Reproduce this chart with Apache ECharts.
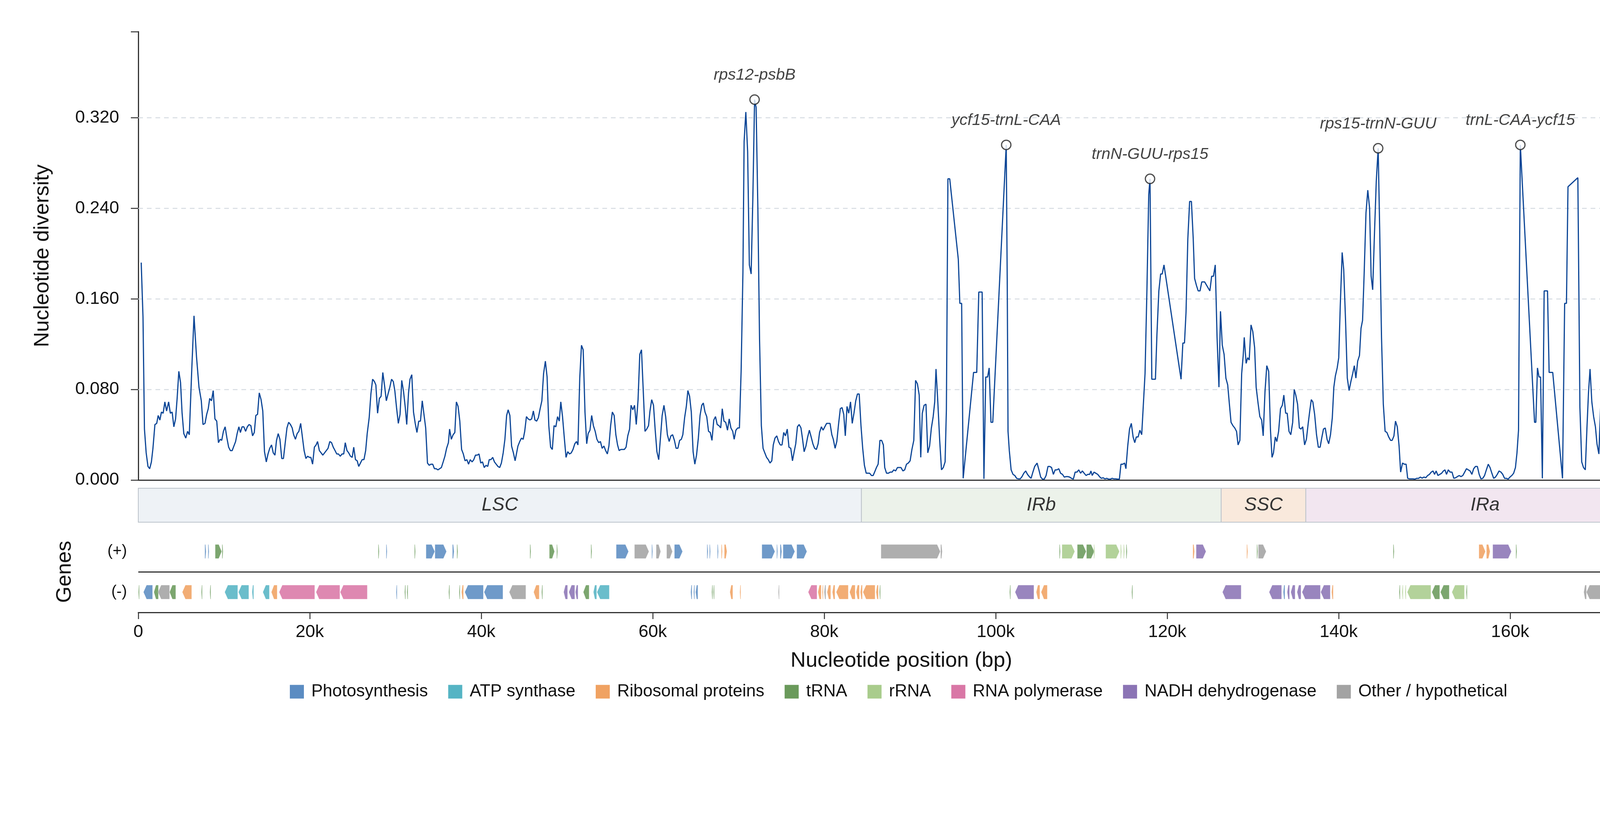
<!DOCTYPE html>
<html lang="en">
<head>
<meta charset="UTF-8">
<title>Nucleotide diversity</title>
<script src="https://cdn.jsdelivr.net/npm/echarts@6/dist/echarts.min.js"></script>
<style>
  html, body { margin: 0; padding: 0; background: #fff; }
  #chart { width: 4322px; height: 2102px; }
</style>
</head>
<body>
<div id="chart"></div>
<script>
// axis setup
const genomeLen = 178000;
const yMax = 0.396;
const yGrid = [0.08, 0.16, 0.24, 0.32];

// sliding-window Pi, [position in kb, Pi], one list per region
const lscPi = [[0.34,0.192],[0.55,0.144],[0.72,0.045],[0.92,0.024],[1.13,0.012],[1.33,0.010],[1.53,0.016],[1.71,0.028],[1.94,0.049],[2.15,0.050],[2.32,0.057],[2.52,0.053],[2.70,0.060],[2.90,0.059],[3.10,0.069],[3.30,0.061],[3.54,0.069],[3.74,0.059],[3.95,0.060],[4.15,0.047],[4.35,0.054],[4.53,0.072],[4.73,0.096],[4.93,0.086],[5.11,0.059],[5.31,0.041],[5.54,0.037],[5.75,0.043],[5.95,0.040],[6.24,0.098],[6.50,0.145],[6.79,0.109],[7.08,0.082],[7.35,0.070],[7.55,0.049],[7.78,0.050],[7.98,0.058],[8.16,0.063],[8.33,0.072],[8.54,0.070],[8.74,0.079],[8.94,0.054],[9.15,0.052],[9.35,0.033],[9.55,0.036],[9.73,0.035],[9.93,0.043],[10.13,0.047],[10.34,0.037],[10.54,0.029],[10.74,0.026],[10.95,0.026],[11.15,0.030],[11.35,0.034],[11.53,0.041],[11.73,0.047],[11.91,0.042],[12.11,0.047],[12.31,0.047],[12.52,0.043],[12.72,0.047],[12.92,0.049],[13.13,0.048],[13.33,0.039],[13.53,0.042],[13.71,0.057],[13.91,0.058],[14.11,0.077],[14.32,0.071],[14.52,0.061],[14.72,0.025],[14.93,0.016],[15.13,0.023],[15.33,0.028],[15.54,0.031],[15.74,0.024],[15.94,0.022],[16.12,0.035],[16.32,0.041],[16.52,0.036],[16.73,0.019],[16.93,0.019],[17.14,0.033],[17.34,0.046],[17.54,0.051],[17.75,0.049],[17.95,0.046],[18.12,0.040],[18.33,0.036],[18.53,0.041],[18.73,0.043],[18.94,0.050],[19.14,0.038],[19.34,0.026],[19.55,0.019],[19.75,0.021],[19.95,0.020],[20.13,0.020],[20.33,0.014],[20.54,0.029],[20.74,0.031],[20.91,0.034],[21.12,0.026],[21.32,0.024],[21.52,0.022],[21.73,0.024],[21.93,0.026],[22.13,0.028],[22.34,0.034],[22.54,0.033],[22.74,0.029],[22.95,0.026],[23.15,0.023],[23.35,0.023],[23.56,0.021],[23.76,0.023],[23.96,0.023],[24.14,0.033],[24.34,0.026],[24.54,0.024],[24.75,0.021],[24.95,0.020],[25.13,0.029],[25.33,0.018],[25.53,0.017],[25.71,0.012],[25.91,0.015],[26.11,0.018],[26.32,0.018],[26.52,0.026],[26.70,0.041],[26.93,0.055],[27.13,0.076],[27.33,0.089],[27.54,0.087],[27.71,0.084],[27.91,0.059],[28.12,0.072],[28.32,0.074],[28.52,0.095],[28.73,0.083],[28.93,0.070],[29.13,0.076],[29.34,0.082],[29.54,0.089],[29.74,0.087],[29.92,0.079],[30.12,0.064],[30.33,0.050],[30.53,0.058],[30.73,0.088],[30.94,0.078],[31.14,0.064],[31.31,0.049],[31.52,0.077],[31.69,0.089],[31.90,0.093],[32.10,0.060],[32.30,0.050],[32.50,0.042],[32.71,0.052],[32.91,0.052],[33.12,0.070],[33.32,0.058],[33.52,0.046],[33.73,0.015],[33.93,0.013],[34.13,0.014],[34.34,0.014],[34.54,0.010],[34.74,0.010],[34.95,0.009],[35.15,0.010],[35.35,0.011],[35.56,0.016],[35.76,0.021],[35.96,0.028],[36.17,0.033],[36.31,0.045],[36.51,0.036],[36.72,0.040],[36.92,0.042],[37.10,0.069],[37.30,0.065],[37.50,0.052],[37.71,0.027],[37.91,0.023],[38.11,0.017],[38.32,0.018],[38.52,0.014],[38.72,0.018],[38.93,0.016],[39.13,0.018],[39.33,0.022],[39.54,0.022],[39.74,0.023],[39.94,0.015],[40.15,0.016],[40.35,0.011],[40.55,0.013],[40.76,0.012],[40.93,0.018],[41.13,0.018],[41.34,0.020],[41.54,0.016],[41.74,0.014],[41.95,0.012],[42.15,0.011],[42.35,0.015],[42.56,0.024],[42.76,0.036],[42.96,0.057],[43.14,0.062],[43.34,0.057],[43.54,0.030],[43.75,0.024],[43.95,0.017],[44.28,0.030],[44.49,0.034],[44.69,0.037],[44.89,0.036],[45.07,0.043],[45.27,0.056],[45.47,0.054],[45.68,0.053],[45.88,0.054],[46.08,0.061],[46.26,0.053],[46.46,0.052],[46.66,0.055],[46.87,0.063],[47.07,0.070],[47.27,0.094],[47.48,0.105],[47.68,0.091],[47.88,0.048],[48.09,0.029],[48.29,0.027],[48.49,0.048],[48.70,0.047],[48.90,0.056],[49.10,0.052],[49.28,0.069],[49.48,0.056],[49.69,0.037],[49.89,0.020],[50.09,0.025],[50.30,0.023],[50.50,0.024],[50.70,0.027],[50.91,0.032],[51.11,0.034],[51.28,0.031],[51.49,0.090],[51.69,0.119],[51.89,0.115],[52.10,0.060],[52.30,0.032],[52.47,0.041],[52.68,0.044],[52.88,0.057],[53.08,0.048],[53.29,0.043],[53.49,0.036],[53.70,0.033],[53.90,0.034],[54.10,0.028],[54.31,0.030],[54.51,0.026],[54.71,0.023],[54.89,0.030],[55.09,0.048],[55.29,0.060],[55.50,0.057],[55.70,0.040],[55.90,0.031],[56.08,0.026],[56.28,0.027],[56.48,0.027],[56.69,0.027],[56.89,0.029],[57.09,0.039],[57.30,0.045],[57.47,0.066],[57.68,0.062],[57.88,0.066],[58.08,0.049],[58.29,0.071],[58.49,0.111],[58.69,0.115],[58.90,0.078],[59.10,0.043],[59.30,0.045],[59.51,0.048],[59.68,0.061],[59.88,0.071],[60.09,0.066],[60.29,0.044],[60.49,0.025],[60.70,0.018],[60.90,0.037],[61.10,0.057],[61.31,0.066],[61.51,0.056],[61.71,0.040],[61.92,0.034],[62.12,0.039],[62.32,0.040],[62.53,0.035],[62.73,0.028],[62.93,0.028],[63.14,0.035],[63.34,0.036],[63.51,0.040],[63.72,0.055],[63.92,0.065],[64.10,0.079],[64.30,0.074],[64.50,0.060],[64.71,0.025],[64.91,0.014],[65.11,0.022],[65.32,0.037],[65.52,0.057],[65.72,0.066],[65.90,0.068],[66.10,0.060],[66.30,0.056],[66.51,0.043],[66.71,0.042],[66.91,0.035],[67.12,0.053],[67.32,0.056],[67.52,0.049],[67.73,0.048],[67.93,0.046],[68.11,0.063],[68.31,0.052],[68.51,0.051],[68.72,0.044],[68.92,0.054],[69.12,0.046],[69.33,0.043],[69.50,0.036],[69.70,0.044],[69.91,0.046],[70.11,0.046],[70.31,0.096],[70.52,0.183],[70.66,0.299],[70.86,0.325],[71.07,0.290],[71.27,0.190],[71.48,0.182],[71.68,0.250],[71.88,0.336],[72.06,0.329],[72.26,0.241],[72.46,0.124],[72.67,0.048],[72.87,0.028],[73.07,0.024],[73.28,0.020],[73.48,0.018],[73.68,0.015],[73.89,0.017],[74.06,0.031],[74.26,0.037],[74.47,0.039],[74.67,0.034],[74.88,0.031],[75.08,0.031],[75.28,0.042],[75.48,0.039],[75.69,0.045],[75.89,0.029],[76.10,0.028],[76.30,0.017],[76.47,0.024],[76.68,0.032],[76.88,0.047],[77.08,0.049],[77.29,0.046],[77.46,0.037],[77.66,0.025],[77.87,0.030],[78.07,0.038],[78.27,0.044],[78.48,0.038],[78.68,0.032],[78.88,0.028],[79.09,0.027],[79.29,0.032],[79.46,0.042],[79.67,0.047],[79.87,0.044],[80.07,0.047],[80.28,0.050],[80.48,0.050],[80.68,0.050],[80.89,0.040],[81.06,0.036],[81.27,0.028],[81.47,0.034],[81.67,0.049],[81.88,0.063],[82.08,0.064],[82.28,0.058],[82.46,0.039],[82.66,0.065],[82.86,0.059],[83.07,0.069],[83.27,0.050],[83.47,0.059],[83.68,0.070],[83.88,0.076],[84.08,0.076],[84.29,0.048]];
const irbPi = [[84.49,0.028],[84.69,0.013],[84.90,0.006],[85.10,0.006],[85.30,0.006],[85.51,0.004],[85.71,0.004],[85.88,0.007],[86.09,0.011],[86.29,0.014],[86.50,0.035],[86.70,0.035],[86.90,0.031],[87.06,0.011],[87.27,0.006],[87.48,0.006],[87.70,0.007],[87.91,0.007],[88.12,0.009],[88.33,0.008],[88.54,0.011],[88.75,0.011],[88.96,0.011],[89.18,0.008],[89.39,0.009],[89.60,0.014],[89.81,0.015],[90.02,0.017],[90.23,0.027],[90.45,0.035],[90.66,0.088],[90.87,0.085],[91.08,0.075],[91.26,0.020],[91.44,0.059],[91.65,0.066],[91.87,0.067],[92.08,0.024],[92.29,0.030],[92.50,0.046],[92.71,0.056],[92.89,0.069],[93.04,0.098],[93.25,0.069],[93.47,0.035],[93.68,0.009],[93.89,0.011],[94.10,0.016],[94.25,0.062],[94.43,0.266],[94.64,0.266],[95.64,0.195],[95.82,0.156],[96.03,0.156],[96.21,0.0015],[97.42,0.095],[97.79,0.095],[98.03,0.166],[98.42,0.166],[98.63,0.001],[98.84,0.091],[99.06,0.091],[99.24,0.099],[99.45,0.051],[99.66,0.051],[101.23,0.296],[101.35,0.172],[101.44,0.043],[101.59,0.026],[101.80,0.009],[102.02,0.005],[102.23,0.004],[102.44,0.0015],[102.65,0.001],[102.86,0.001],[103.07,0.003],[103.28,0.006],[103.50,0.008],[103.71,0.005],[103.92,0.003],[104.13,0.0015],[104.34,0.007],[104.55,0.012],[104.83,0.015],[105.04,0.009],[105.25,0.0026],[105.46,0.0008],[105.67,0.0008],[105.88,0.004],[106.10,0.012],[106.31,0.012],[106.52,0.011],[106.73,0.005],[106.94,0.009],[107.15,0.009],[107.36,0.010],[107.57,0.006],[107.79,0.005],[108.00,0.0026],[108.21,0.003],[108.42,0.003],[108.63,0.0026],[108.84,0.0015],[109.06,0.0008],[109.27,0.007],[109.48,0.007],[109.69,0.009],[109.90,0.006],[110.11,0.008],[110.32,0.006],[110.54,0.004],[110.75,0.005],[110.96,0.005],[111.11,0.008],[111.26,0.004],[111.47,0.007],[111.68,0.006],[111.90,0.005],[112.11,0.003],[112.32,0.0015],[112.53,0.002],[112.74,0.001],[112.95,0.0015],[113.16,0.0008],[113.38,0.0008],[113.59,0.0015],[113.80,0.001],[114.01,0.001],[114.22,0.0008],[114.43,0.0008],[114.61,0.014],[114.83,0.014],[115.04,0.015],[115.19,0.010],[115.40,0.030],[115.61,0.045],[115.82,0.050],[116.03,0.038],[116.22,0.033],[116.40,0.038],[116.61,0.038],[116.82,0.044],[117.03,0.040],[117.24,0.069],[117.42,0.094],[117.64,0.168],[117.85,0.252],[118.00,0.266],[118.21,0.089],[118.63,0.089],[118.81,0.129],[119.03,0.167],[119.24,0.182],[119.42,0.182],[119.63,0.190],[121.62,0.089],[121.83,0.121],[122.02,0.121],[122.20,0.148],[122.41,0.213],[122.62,0.246],[122.83,0.246],[123.04,0.213],[123.20,0.178],[123.41,0.172],[123.62,0.167],[123.83,0.167],[124.04,0.175],[124.37,0.175],[124.98,0.167],[125.19,0.180],[125.40,0.180],[125.61,0.190],[125.82,0.126],[126.04,0.082],[126.22,0.149]];
const sscPi = [[126.43,0.119],[126.64,0.111],[126.85,0.090],[127.06,0.084],[127.27,0.066],[127.45,0.051],[127.67,0.048],[127.88,0.046],[128.09,0.043],[128.27,0.031],[128.48,0.035],[128.69,0.094],[128.87,0.110],[128.99,0.126],[129.21,0.103],[129.39,0.108],[129.57,0.106],[129.78,0.137],[129.99,0.131],[130.20,0.117],[130.38,0.082],[130.60,0.068],[130.81,0.056],[131.02,0.053],[131.20,0.039],[131.41,0.078],[131.62,0.101],[131.84,0.096],[132.05,0.044],[132.23,0.020],[132.40,0.024],[132.61,0.038],[132.79,0.034],[133.00,0.043],[133.22,0.063],[133.43,0.066],[133.61,0.075],[133.82,0.059],[134.00,0.059],[134.21,0.043],[134.42,0.040],[134.64,0.051],[134.82,0.080],[135.00,0.075],[135.21,0.067],[135.42,0.046],[135.60,0.045],[135.81,0.047],[136.03,0.031]];
const iraPi = [[136.24,0.036],[136.45,0.050],[136.63,0.061],[136.81,0.071],[136.99,0.069],[137.20,0.058],[137.42,0.040],[137.63,0.029],[137.84,0.029],[138.05,0.038],[138.23,0.045],[138.44,0.046],[138.65,0.036],[138.84,0.032],[139.05,0.040],[139.26,0.055],[139.44,0.082],[139.62,0.092],[139.83,0.099],[140.01,0.108],[140.19,0.154],[140.41,0.201],[140.59,0.186],[140.80,0.142],[141.01,0.090],[141.22,0.079],[141.43,0.087],[141.64,0.094],[141.83,0.101],[142.01,0.090],[142.22,0.105],[142.43,0.110],[142.61,0.134],[142.79,0.141],[142.97,0.181],[143.19,0.236],[143.40,0.256],[143.61,0.240],[143.79,0.180],[143.97,0.168],[144.18,0.218],[144.39,0.264],[144.61,0.293],[144.79,0.220],[145.00,0.126],[145.21,0.067],[145.42,0.043],[145.63,0.042],[145.84,0.038],[146.06,0.035],[146.24,0.035],[146.45,0.039],[146.63,0.052],[146.84,0.047],[147.05,0.030],[147.23,0.007],[147.45,0.015],[147.66,0.014],[147.87,0.014],[148.05,0.0015],[148.26,0.001],[148.47,0.001],[148.68,0.001],[148.90,0.0008],[149.11,0.0015],[149.32,0.0015],[149.53,0.0026],[149.74,0.0017],[149.95,0.0026],[150.16,0.002],[150.38,0.004],[150.59,0.005],[150.80,0.007],[151.01,0.008],[151.19,0.005],[151.37,0.008],[151.58,0.004],[151.80,0.005],[152.01,0.006],[152.22,0.008],[152.40,0.009],[152.58,0.005],[152.79,0.009],[153.00,0.007],[153.22,0.007],[153.43,0.0015],[153.64,0.002],[153.85,0.003],[154.06,0.004],[154.27,0.003],[154.48,0.004],[154.70,0.007],[154.91,0.010],[155.12,0.009],[155.33,0.008],[155.54,0.005],[155.75,0.010],[155.96,0.012],[156.18,0.012],[156.39,0.005],[156.60,0.001],[156.81,0.0015],[157.02,0.004],[157.23,0.009],[157.45,0.014],[157.66,0.011],[157.87,0.006],[158.08,0.0015],[158.29,0.0026],[158.50,0.005],[158.71,0.008],[158.93,0.007],[159.14,0.005],[159.35,0.0015],[159.56,0.0015],[159.77,0.0008],[159.98,0.0026],[160.20,0.004],[160.41,0.006],[160.62,0.011],[160.80,0.024],[160.98,0.044],[161.10,0.195],[161.19,0.296],[162.85,0.051],[163.00,0.051],[163.19,0.099],[163.37,0.091],[163.55,0.091],[163.76,0.0015],[163.97,0.167],[164.36,0.167],[164.55,0.095],[164.97,0.095],[166.11,0.0015],[166.36,0.156],[166.57,0.156],[166.75,0.259],[167.90,0.267],[167.99,0.267],[168.14,0.064],[168.35,0.016],[168.56,0.011],[168.77,0.009],[168.96,0.046],[169.14,0.077],[169.32,0.098],[169.53,0.069],[169.74,0.056],[169.95,0.047],[170.13,0.032],[170.35,0.023],[170.56,0.066],[170.77,0.066],[170.98,0.060],[171.16,0.020],[171.37,0.072],[171.55,0.084],[171.73,0.088],[171.95,0.035],[172.16,0.026],[172.37,0.017],[172.58,0.015],[172.79,0.015],[173.00,0.009],[173.22,0.009],[173.43,0.008],[173.64,0.011],[173.85,0.011],[174.06,0.011],[174.24,0.008],[174.45,0.009],[174.67,0.007],[174.88,0.007],[175.09,0.006],[175.30,0.011],[175.51,0.031],[175.72,0.036],[175.94,0.034],[176.15,0.012],[176.36,0.008],[176.57,0.005],[176.78,0.005],[177.00,0.005],[177.21,0.006],[177.42,0.006],[177.60,0.007],[177.78,0.014]];

// labelled hotspots
const peakNames = ['rps12-psbB', 'ycf15-trnL-CAA', 'trnN-GUU-rps15', 'rps15-trnN-GUU', 'trnL-CAA-ycf15'];
const peakKb = [71.88, 101.23, 118.0, 144.61, 161.19];
const peakPi = [0.336, 0.296, 0.266, 0.293, 0.296];

// quadripartite regions (kb)
const regionNames = ['LSC', 'IRb', 'SSC', 'IRa'];
const regionStart = [0, 84.34, 126.3, 136.17];
const regionEnd = [84.34, 126.3, 136.17, 178];
const regionFill = ['#eef2f6', '#ecf2ea', '#f9e9dc', '#f2e6f0'];

// gene categories
const categories = ['Photosynthesis', 'ATP synthase', 'Ribosomal proteins', 'tRNA', 'rRNA', 'RNA polymerase', 'NADH dehydrogenase', 'Other / hypothetical'];
const catColors = ['#5b8cc2', '#55b4c4', '#f0a262', '#6a9a5b', '#a9cc8c', '#d977a6', '#8b74b5', '#a3a3a3'];

// genes [start kb, end kb, category index]
const plusGenes = [[7.76,7.91,0],[8.14,8.25,0],[8.97,9.73,3],[9.77,9.89,3],[28.0,28.08,3],[28.93,29.0,0],[32.24,32.3,3],[33.56,34.58,0],[34.6,35.95,0],[36.64,36.83,0],[37.17,37.26,3],[45.7,45.77,3],[47.94,48.55,3],[48.82,48.89,3],[52.82,52.88,3],[55.74,57.18,0],[57.87,59.56,7],[59.9,59.98,0],[60.4,60.93,7],[61.62,62.3,7],[62.53,63.48,0],[66.33,66.45,0],[66.64,66.71,0],[67.57,67.63,0],[68.0,68.12,2],[68.35,68.66,2],[72.73,74.25,0],[74.48,74.55,0],[74.86,75.05,0],[75.2,76.57,0],[76.8,77.98,0],[86.62,93.54,7],[93.58,93.77,7],[107.43,107.54,3],[107.73,109.22,4],[109.52,110.55,3],[110.59,111.5,3],[111.46,111.54,4],[112.83,114.43,4],[114.58,114.66,4],[114.94,115.0,4],[115.25,115.3,3],[123.0,123.19,2],[123.38,124.53,6],[129.28,129.4,2],[130.47,130.55,3],[130.63,131.55,7],[146.39,146.45,3],[156.36,157.12,2],[157.24,157.66,2],[157.97,160.15,6],[160.7,160.76,3],[175.84,175.9,3],[176.14,176.37,2],[176.45,177.9,2]];
const minusGenes = [[0.03,0.11,3],[0.6,1.67,0],[1.82,2.35,3],[2.3,3.65,7],[3.65,4.37,3],[5.13,6.23,2],[7.37,7.45,3],[8.37,8.44,3],[10.08,11.6,1],[11.68,12.89,1],[13.27,13.46,1],[14.53,15.29,1],[15.52,16.2,2],[16.43,20.58,5],[20.73,23.51,5],[23.55,26.71,5],[30.09,30.17,0],[31.08,31.16,3],[31.35,31.43,3],[36.22,36.3,3],[37.44,37.51,3],[37.7,37.93,2],[38.08,40.25,0],[40.33,42.53,0],[43.26,45.2,7],[46.11,46.76,2],[47.06,47.14,3],[49.61,50.07,6],[50.22,50.91,6],[50.98,51.29,6],[51.9,52.58,3],[53.08,53.46,1],[53.5,54.94,1],[64.43,64.58,0],[64.77,64.89,0],[65.0,65.27,0],[66.9,66.98,3],[67.1,67.16,3],[69.0,69.34,2],[70.18,70.25,2],[74.67,74.74,7],[78.13,79.16,5],[79.27,79.65,2],[79.77,79.88,2],[80.0,80.19,7],[80.34,80.76,2],[80.95,81.25,2],[81.4,82.81,2],[82.96,83.61,2],[83.72,84.1,2],[84.22,84.45,2],[84.52,85.93,2],[86.05,86.31,2],[86.46,86.54,3],[101.65,101.71,3],[102.26,104.46,6],[104.73,105.15,2],[105.3,106.02,2],[115.89,115.95,3],[126.45,128.63,6],[131.89,133.35,6],[133.54,133.73,0],[134.0,134.27,6],[134.42,134.92,6],[135.15,135.61,6],[135.73,137.87,6],[137.91,139.02,6],[139.18,139.37,2],[147.08,147.15,3],[147.42,147.5,4],[147.77,147.84,4],[148.0,150.76,4],[150.87,151.79,3],[151.87,152.9,3],[153.21,154.67,4],[154.9,154.97,3],[168.59,168.9,7],[168.9,175.79,7]];

const FONT = 'Liberation Sans, Arial, sans-serif';
const DARK = '#333';

const chart = echarts.init(document.getElementById('chart'));

const piData = [].concat(lscPi, irbPi, sscPi, iraPi).map(p => [p[0] * 1000, p[1]]);

function renderGene(params, api) {
    const row = api.value(2);
    const p1 = api.coord([api.value(0), row]);
    const p2 = api.coord([api.value(1), row]);
    const h = 36;
    let x1 = p1[0], x2 = p2[0];
    if (x2 - x1 < 2.5) {
        const m = (x1 + x2) / 2;
        x1 = m - 1.25; x2 = m + 1.25;
    }
    const a = Math.min(8, (x2 - x1) * 0.45);
    const y = p1[1], t = y - h / 2, b = y + h / 2;
    const pts = api.value(3) > 0
        ? [[x1, t], [x2 - a, t], [x2, y], [x2 - a, b], [x1, b]]
        : [[x1, y], [x1 + a, t], [x2, t], [x2, b], [x1 + a, b]];
    return {
        type: 'polygon',
        shape: { points: pts },
        style: { fill: api.visual('color'), opacity: 0.88, stroke: 'rgba(255,255,255,0.55)', lineWidth: 1 }
    };
}

function renderRegion(params, api) {
    const i = api.value(2);
    const tl = api.coord([api.value(0), 1]);
    const br = api.coord([api.value(1), 0]);
    return {
        type: 'group',
        children: [
            {
                type: 'rect',
                shape: { x: tl[0], y: tl[1], width: br[0] - tl[0], height: br[1] - tl[1] },
                style: { fill: regionFill[i], stroke: '#bcc3cb', lineWidth: 2 }
            },
            {
                type: 'text',
                style: {
                    text: regionNames[i], x: (tl[0] + br[0]) / 2, y: (tl[1] + br[1]) / 2,
                    align: 'center', verticalAlign: 'middle',
                    fontSize: 48, fontStyle: 'italic', fontFamily: FONT, fill: DARK
                }
            }
        ]
    };
}

// one custom series per gene category, so the legend picks them up
const geneSeries = categories.map((name, ci) => {
    const data = [];
    plusGenes.forEach(g => { if (g[2] === ci) data.push([g[0] * 1000, g[1] * 1000, 1.5, 1]); });
    minusGenes.forEach(g => { if (g[2] === ci) data.push([g[0] * 1000, g[1] * 1000, 0.5, -1]); });
    const s = {
        name: name,
        type: 'custom',
        xAxisIndex: 2,
        yAxisIndex: 2,
        renderItem: renderGene,
        encode: { x: [0, 1], y: 2 },
        itemStyle: { color: catColors[ci] },
        data: data,
        silent: true
    };
    if (ci === 0) {
        s.markLine = {
            silent: true, symbol: ['none', 'none'], label: { show: false },
            lineStyle: { color: DARK, width: 3, type: 'solid' },
            data: [{ yAxis: 1 }]
        };
    }
    return s;
});

const kFormat = v => v === 0 ? '0' : Math.round(v / 1000) + 'k';

chart.setOption({
    animation: false,
    backgroundColor: '#fff',
    textStyle: { fontFamily: FONT },
    grid: [
        { left: 354, right: 61, top: 81, height: 1148 },
        { left: 354, right: 61, top: 1250, height: 87 },
        { left: 354, right: 61, top: 1360, height: 208 }
    ],
    xAxis: [
        {
            gridIndex: 0, type: 'value', min: 0, max: genomeLen,
            axisLine: { show: true, lineStyle: { color: DARK, width: 3 } },
            axisTick: { show: false }, axisLabel: { show: false }, splitLine: { show: false }
        },
        { gridIndex: 1, type: 'value', min: 0, max: genomeLen, show: false },
        {
            gridIndex: 2, type: 'value', min: 0, max: genomeLen, interval: 20000,
            axisLine: { show: true, lineStyle: { color: DARK, width: 3 } },
            axisTick: { show: true, length: 17, lineStyle: { color: DARK, width: 2.5 } },
            axisLabel: { fontSize: 45, color: '#111', margin: 28, formatter: kFormat },
            splitLine: { show: false },
            name: 'Nucleotide position (bp)', nameLocation: 'middle', nameGap: 97,
            nameTextStyle: { fontSize: 54, color: '#111' }
        }
    ],
    yAxis: [
        {
            gridIndex: 0, type: 'value', min: 0, max: yMax, interval: 0.08,
            axisLine: { show: true, lineStyle: { color: DARK, width: 3 } },
            axisTick: { show: true, length: 19, lineStyle: { color: DARK, width: 2.5 } },
            axisLabel: {
                fontSize: 45, color: '#111', margin: 49,
                formatter: v => Math.abs(v / 0.08 - Math.round(v / 0.08)) < 1e-6 ? v.toFixed(3) : ''
            },
            splitLine: { show: false },
            name: 'Nucleotide diversity', nameLocation: 'middle', nameGap: 218,
            nameTextStyle: { fontSize: 54, color: '#111' }
        },
        { gridIndex: 1, type: 'value', min: 0, max: 1, show: false },
        {
            gridIndex: 2, type: 'value', min: 0, max: 2, interval: 0.5,
            axisLine: { show: false }, axisTick: { show: false }, splitLine: { show: false },
            axisLabel: {
                fontSize: 40, color: '#111', margin: 29,
                formatter: v => v === 1.5 ? '(+)' : (v === 0.5 ? '(-)' : '')
            },
            name: 'Genes', nameLocation: 'middle', nameGap: 161,
            nameTextStyle: { fontSize: 54, color: '#111' }
        }
    ],
    legend: {
        data: categories,
        left: 737, top: 1744,
        icon: 'rect', itemWidth: 36, itemHeight: 35, itemGap: 52,
        selectedMode: false,
        textStyle: { fontSize: 44, color: '#111', padding: [0, 0, 0, 14] }
    },
    series: [
        {
            name: 'grid', type: 'line', xAxisIndex: 0, yAxisIndex: 0, data: [],
            markLine: {
                silent: true, z: 1, symbol: ['none', 'none'], label: { show: false },
                lineStyle: { color: '#d6dce2', width: 2.5, type: [12, 10] },
                data: yGrid.map(v => ({ yAxis: v }))
            }
        },
        {
            name: 'Pi', type: 'line', xAxisIndex: 0, yAxisIndex: 0, z: 3,
            showSymbol: false, symbol: 'none',
            lineStyle: { color: '#0b4596', width: 3 },
            data: piData
        },
        {
            name: 'peaks', type: 'scatter', xAxisIndex: 0, yAxisIndex: 0, z: 4,
            symbol: 'circle', symbolSize: 24,
            itemStyle: { color: '#fff', borderColor: '#222', borderWidth: 3 },
            label: {
                show: true, position: 'top', distance: 28,
                formatter: p => peakNames[p.dataIndex],
                fontSize: 41, fontStyle: 'italic', color: '#111'
            },
            data: peakKb.map((k, i) => [k * 1000, peakPi[i]])
        },
        {
            name: 'regions', type: 'custom', xAxisIndex: 1, yAxisIndex: 1,
            renderItem: renderRegion, encode: { x: [0, 1] }, silent: true,
            data: regionNames.map((n, i) => [regionStart[i] * 1000, regionEnd[i] * 1000, i])
        }
    ].concat(geneSeries)
});
</script>
</body>
</html>
